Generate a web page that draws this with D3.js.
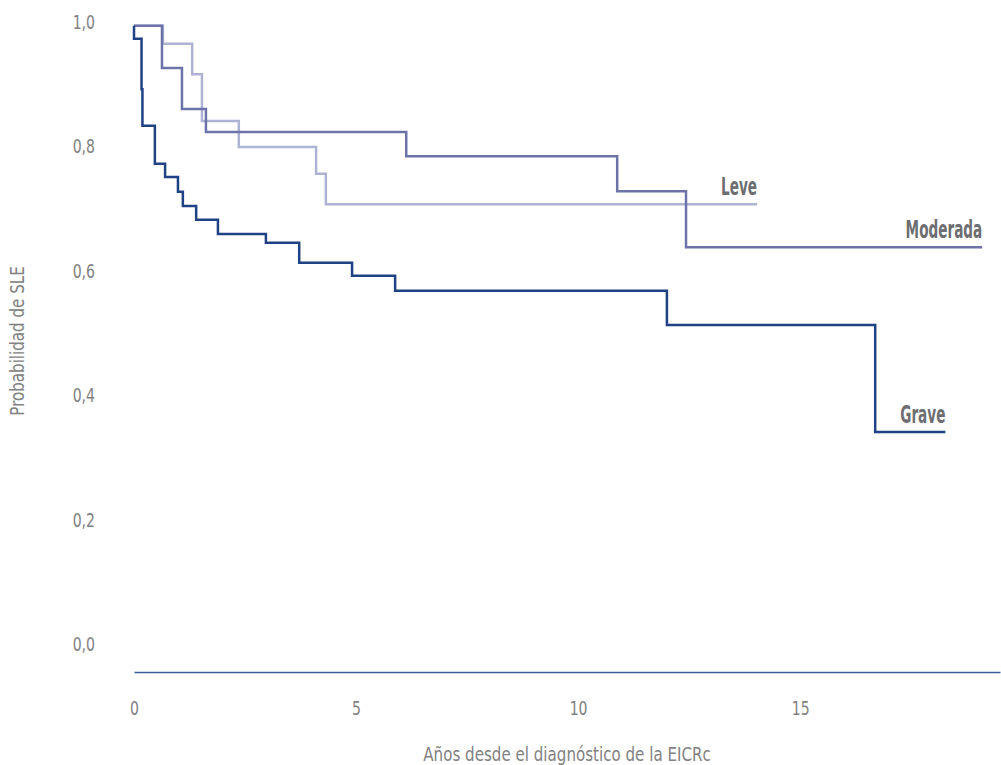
<!DOCTYPE html>
<html>
<head>
<meta charset="utf-8">
<script src="https://cdn.jsdelivr.net/npm/d3@7"></script>
<style>
    body { margin: 0; background: #ffffff; }
    text { font-family: "Liberation Sans Narrow", "DejaVu Sans Condensed", "DejaVu Sans", sans-serif; }
</style>
</head>
<body>
<div id="graph"></div>
<script>
// global variables
var width = 1001;
var height = 765;
var svg = null;

// chart data (years since diagnosis, survival probability)
var series_names = ["Leve", "Moderada", "Grave"];
var leve_times = [0, 0.65, 1.31, 1.53, 2.36, 4.10, 4.32, 14.03];
var leve_surv = [0.994, 0.965, 0.916, 0.841, 0.799, 0.756, 0.707, 0.707];
var moderada_times = [0, 0.63, 1.08, 1.62, 6.13, 10.88, 12.43, 19.10];
var moderada_surv = [0.994, 0.926, 0.860, 0.823, 0.784, 0.728, 0.638, 0.638];
var grave_times = [0, 0, 0.17, 0.19, 0.47, 0.70, 0.99, 1.10, 1.40, 1.89, 2.97, 3.72, 4.91, 5.88, 12.00, 16.69, 18.27];
var grave_surv = [0.994, 0.973, 0.892, 0.833, 0.772, 0.751, 0.727, 0.704, 0.682, 0.659, 0.645, 0.613, 0.592, 0.568, 0.513, 0.341, 0.341];
var x_ticks = [0, 5, 10, 15];
var y_ticks = [0, 0.2, 0.4, 0.6, 0.8, 1.0];

// chart settings
var series_colors = ["#aeb2d3", "#6b73a9", "#1f4285"];
var line_width = 2.5;
var axis_color = "#3d5c9c";
var text_color = "#828282";
var label_color = "#6d6e71";
var tick_squeeze = 0.78;   // no condensed font installed, so squeeze glyphs
var title_squeeze = 0.84;
var label_squeeze = 0.63;

var x = d3.scaleLinear().domain([0, 19.5]).range([134, 1000]);
var y = d3.scaleLinear().domain([0, 1]).range([644, 22]);

var comma = d3.formatLocale({decimal: ",", thousands: ".", grouping: [3], currency: ["", ""]});

function getSeries(times, surv){
    var points = [];
    for (i = 0; i < times.length; i++){
        points.push({t: times[i], s: surv[i]});
    }
    return points;
}

function drawChart(){
    svg = d3.select("#graph")
        .append("svg")
        .attr("width", width)
        .attr("height", height);

    // y axis labels only
    var yAxis = svg.append("g")
        .attr("transform", "translate(95,0)")
        .call(d3.axisLeft(y).tickValues(y_ticks).tickSize(0).tickPadding(0).tickFormat(comma.format(".1f")));
    yAxis.select(".domain").remove();
    yAxis.selectAll("text")
        .attr("fill", text_color)
        .attr("transform", "scale(" + tick_squeeze + ",1)")
        .style("font-size", "20px");

    // x axis line sits below zero
    var xAxis = svg.append("g")
        .attr("transform", "translate(0,672)")
        .call(d3.axisBottom(x).tickValues(x_ticks).tickSize(0).tickPadding(29).tickFormat(d3.format("d")));
    xAxis.select(".domain")
        .attr("stroke", axis_color)
        .attr("stroke-width", 1.5);
    xAxis.selectAll("text")
        .attr("fill", text_color)
        .attr("transform", "scale(" + tick_squeeze + ",1)")
        .style("font-size", "20px");

    // axis titles
    svg.append("text")
        .attr("transform", "translate(567,761) scale(" + title_squeeze + ",1)")
        .attr("text-anchor", "middle")
        .attr("fill", text_color)
        .style("font-size", "20px")
        .text("Años desde el diagnóstico de la EICRc");

    svg.append("text")
        .attr("transform", "translate(24,341) rotate(-90) scale(" + title_squeeze + ",1)")
        .attr("text-anchor", "middle")
        .attr("fill", text_color)
        .style("font-size", "20px")
        .text("Probabilidad de SLE");

    var all_series = [
        getSeries(leve_times, leve_surv),
        getSeries(moderada_times, moderada_surv),
        getSeries(grave_times, grave_surv)
    ];

    var line = d3.line()
        .x(function(d) { return x(d.t); })
        .y(function(d) { return y(d.s); })
        .curve(d3.curveStepAfter);

    svg.append("g")
        .selectAll("path")
        .data(all_series)
        .enter().append("path")
        .attr("d", line)
        .attr("fill", "none")
        .attr("stroke", function(d, i) { return series_colors[i]; })
        .attr("stroke-width", line_width);

    // series labels at the end of each curve
    svg.append("g")
        .selectAll("text")
        .data(all_series)
        .enter().append("text")
        .attr("transform", function(d) {
            var last = d[d.length - 1];
            return "translate(" + x(last.t) + "," + (y(last.s) - 9) + ") scale(" + label_squeeze + ",1)";
        })
        .attr("text-anchor", "end")
        .attr("fill", label_color)
        .style("font-size", "24px")
        .style("font-weight", "bold")
        .text(function(d, i) { return series_names[i]; });
}

drawChart();
</script>
</body>
</html>
